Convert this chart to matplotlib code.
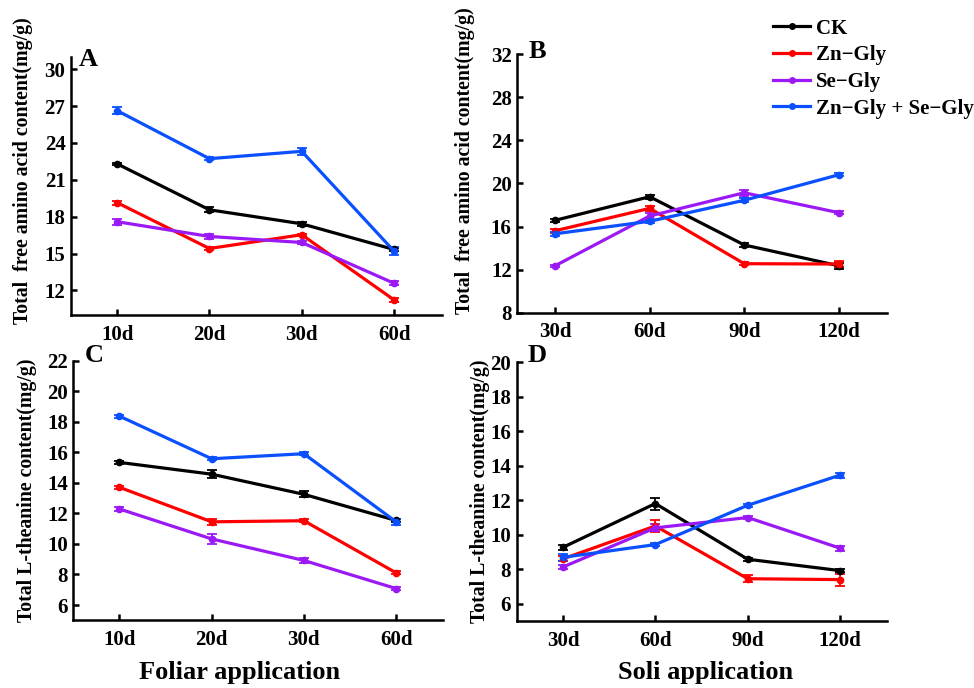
import numpy as np
import matplotlib
matplotlib.use("Agg")
import matplotlib.pyplot as plt
from matplotlib.lines import Line2D

plt.rcParams["font.family"] = ["Liberation Serif", "DejaVu Serif"]
plt.rcParams["font.weight"] = "bold"

names = ["CK", "Zn\u2212Gly", "Se\u2212Gly", "Zn\u2212Gly + Se\u2212Gly"]
colors = ["#000000", "#FF0000", "#9B19F5", "#0A50FF"]

foliar_days = ["10d", "20d", "30d", "60d"]
soil_days = ["30d", "60d", "90d", "120d"]

# A: free amino acid, foliar
amino_foliar = [
    [22.3, 18.56, 17.42, 15.33],
    [19.14, 15.41, 16.53, 11.23],
    [17.59, 16.39, 15.9, 12.58],
    [26.63, 22.72, 23.32, 15.2],
]
amino_foliar_err = [
    [0.1, 0.2, 0.15, 0.15],
    [0.15, 0.1, 0.1, 0.15],
    [0.25, 0.2, 0.15, 0.15],
    [0.3, 0.1, 0.3, 0.35],
]

# B: free amino acid, soil
amino_soil = [
    [16.58, 18.77, 14.29, 12.36],
    [15.61, 17.69, 12.55, 12.52],
    [12.36, 16.98, 19.14, 17.29],
    [15.33, 16.49, 18.44, 20.81],
]
amino_soil_err = [
    [0.15, 0.2, 0.15, 0.3],
    [0.2, 0.2, 0.15, 0.25],
    [0.1, 0.3, 0.3, 0.15],
    [0.2, 0.15, 0.2, 0.15],
]

# C: L-theanine, foliar
thea_foliar = [
    [15.34, 14.57, 13.25, 11.54],
    [13.71, 11.45, 11.52, 8.11],
    [12.29, 10.33, 8.92, 7.08],
    [18.37, 15.58, 15.91, 11.45],
]
thea_foliar_err = [
    [0.1, 0.25, 0.2, 0.1],
    [0.1, 0.2, 0.1, 0.1],
    [0.1, 0.35, 0.15, 0.1],
    [0.1, 0.1, 0.1, 0.2],
]

# D: L-theanine, soil
thea_soil = [
    [9.27, 11.81, 8.58, 7.92],
    [8.6, 10.51, 7.45, 7.4],
    [8.13, 10.4, 11.0, 9.22],
    [8.69, 9.43, 11.71, 13.46],
]
thea_soil_err = [
    [0.15, 0.35, 0.1, 0.1],
    [0.15, 0.35, 0.2, 0.35],
    [0.1, 0.2, 0.1, 0.15],
    [0.2, 0.1, 0.1, 0.15],
]

amino_label = "Total  free amino acid content(mg/g)"
thea_label = "Total L-theanine content(mg/g)"


def draw_panel(ax, days, values, errors, ylim, yticks, xlim, letter, letter_pos,
               ylabel, label_pos):
    x = np.arange(len(days))
    for vals, errs, color in zip(values, errors, colors):
        ax.errorbar(x, vals, yerr=errs, color=color, lw=2.3, marker="o",
                    ms=4.5, capsize=3.5, elinewidth=1.3, capthick=1.3)
    ax.set_xlim(*xlim)
    ax.set_ylim(*ylim)
    ax.set_yticks(yticks)
    ax.set_xticks(x)
    ax.set_xticklabels(days)
    ax.spines["top"].set_visible(False)
    ax.spines["right"].set_visible(False)
    for side in ["left", "bottom"]:
        ax.spines[side].set_linewidth(1.8)
    ax.tick_params(axis="both", direction="in", length=4, width=1.8,
                   labelsize=15)
    ax.tick_params(axis="y", pad=4)
    ax.tick_params(axis="x", pad=7)
    ax.set_ylabel(ylabel, fontsize=14.3, fontweight="bold")
    ax.yaxis.set_label_coords(*label_pos)
    ax.text(letter_pos[0], letter_pos[1], letter, transform=ax.transAxes,
            fontsize=19, fontweight="bold", ha="left", va="top")


def main():
    fig = plt.figure(figsize=(9.74, 6.88), dpi=100)

    ax_a = fig.add_axes([0.0729, 0.5422, 0.3809, 0.375])
    ax_b = fig.add_axes([0.5311, 0.5455, 0.3796, 0.3756])
    ax_c = fig.add_axes([0.0753, 0.0984, 0.3796, 0.3773])
    ax_d = fig.add_axes([0.5305, 0.0974, 0.3805, 0.376])

    draw_panel(ax_a, foliar_days, amino_foliar, amino_foliar_err, (10, 31),
               np.arange(12, 31, 3), (-0.5, 3.52), "A", (0.02, 1.035),
               amino_label, (-0.102, 0.56))
    draw_panel(ax_b, soil_days, amino_soil, amino_soil_err, (8, 32),
               np.arange(8, 33, 4), (-0.4, 3.51), "B", (0.03, 1.055),
               amino_label, (-0.114, 0.59))
    draw_panel(ax_c, foliar_days, thea_foliar, thea_foliar_err, (5, 22),
               np.arange(6, 23, 2), (-0.5, 3.51), "C", (0.03, 1.065),
               thea_label, (-0.098, 0.5))
    draw_panel(ax_d, soil_days, thea_soil, thea_soil_err, (5, 20),
               np.arange(6, 21, 2), (-0.5, 3.51), "D", (0.03, 1.07),
               thea_label, (-0.072, 0.5))

    handles = [Line2D([], [], color=c, lw=2.3, marker="o", ms=4) for c in colors]
    fig.legend(handles, names, loc="upper left", bbox_to_anchor=(0.785, 0.985),
               frameon=False, fontsize=15, handlelength=1.8, handletextpad=0.25,
               labelspacing=0.32, borderaxespad=0)

    fig.text(240 / 974, 0.022, "Foliar application", fontsize=19,
             fontweight="bold", ha="center", va="center")
    fig.text(706 / 974, 0.022, "Soli application", fontsize=19,
             fontweight="bold", ha="center", va="center")

    fig.savefig("out.png", dpi=100)


if __name__ == "__main__":
    main()
